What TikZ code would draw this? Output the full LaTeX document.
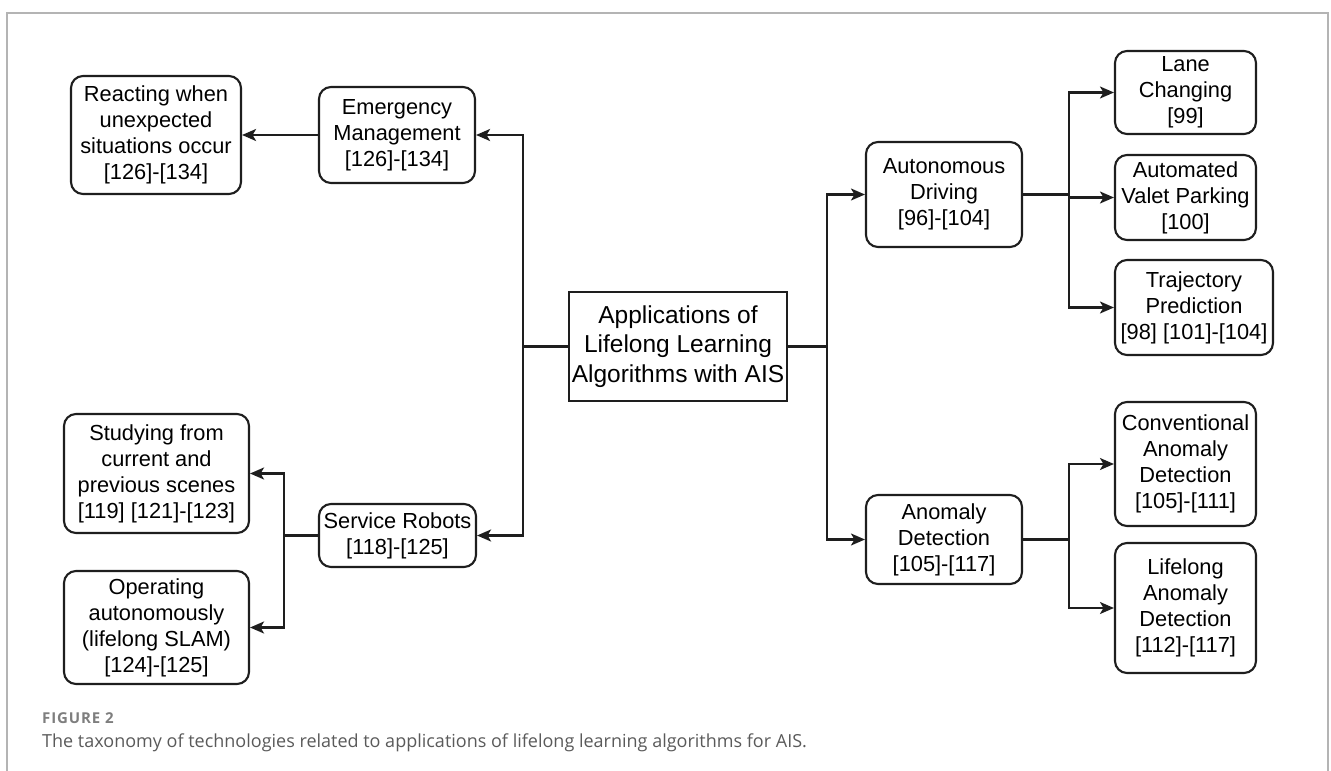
\documentclass[tikz,border=0pt]{standalone}
\usepackage{fontspec}
\setmainfont{Liberation Sans}
\newfontfamily\capfont{Open Sans}
\newfontfamily\labfont[LetterSpace=6]{Open Sans}
\usetikzlibrary{arrows.meta}
\definecolor{edgec}{HTML}{1E1E1E}
\definecolor{framec}{HTML}{B4B4B4}
\definecolor{capgray}{HTML}{7E7E7E}
\definecolor{captext}{HTML}{5A5A5A}
\tikzset{
  box/.style={draw=edgec, line width=2.1pt, rounded corners=12pt, fill=white,
    align=center, inner sep=0pt, font=\fontsize{21.8}{26}\selectfont,
    minimum width=#1},
  box/.default=156pt,
  rootbox/.style={box=218pt, rounded corners=0pt, font=\fontsize{24.5}{29.5}\selectfont},
  link/.style={draw=edgec, line width=2.1pt},
  arr/.style={link, -{Stealth[length=14pt,width=12pt,inset=3.5pt]}},
}
\begin{document}
\begin{tikzpicture}[x=1pt,y=-1pt]
\useasboundingbox (0,0) rectangle (1331,771);
% outer frame, open at the bottom
\draw[framec, line width=1.4pt] (7,771) -- (7,13) -- (1328,13) -- (1328,771);

% root
\node[rootbox, minimum height=109pt] (root) at (678,346.5)
  {Applications of\\Lifelong Learning\\Algorithms with AIS};

% left branch
\node[box, minimum height=96pt] (emerg) at (397,135)
  {Emergency\\Management\\{[126]-[134]}};
\node[box=170pt, minimum height=118pt] (react) at (156,135)
  {Reacting when\\unexpected\\situations occur\\{[126]-[134]}};
\node[box=157pt, minimum height=63pt] (serv) at (397.5,535.5)
  {Service Robots\\{[118]-[125]}};
\node[box=185pt, minimum height=119pt] (study) at (156.5,473.5)
  {Studying from\\current and\\previous scenes\\{[119] [121]-[123]}};
\node[box=185pt, minimum height=113pt] (oper) at (156.5,627.5)
  {Operating\\autonomously\\(lifelong SLAM)\\{[124]-[125]}};

% right branch
\node[box, minimum height=105pt] (auto) at (944,194.5)
  {Autonomous\\Driving\\{[96]-[104]}};
\node[box=141pt, minimum height=83pt] (lane) at (1185.5,92.5)
  {Lane\\Changing\\{[99]}};
\node[box=141pt, minimum height=85pt] (valet) at (1185.5,197.5)
  {Automated\\Valet Parking\\{[100]}};
\node[box=158pt, minimum height=95pt] (traj) at (1194,307.5)
  {Trajectory\\Prediction\\{[98] [101]-[104]}};
\node[box, minimum height=89pt] (anom) at (944,539.5)
  {Anomaly\\Detection\\{[105]-[117]}};
\node[box=141pt, minimum height=124pt] (conv) at (1185.5,464)
  {Conventional\\Anomaly\\Detection\\{[105]-[111]}};
\node[box=141pt, minimum height=130pt] (life) at (1185.5,608)
  {Lifelong\\Anomaly\\Detection\\{[112]-[117]}};

% junction points
\coordinate (jl) at (523,346.5);
\coordinate (jr) at (826.7,346.5);
\coordinate (js) at (284,535.5);
\coordinate (ja) at (1068.7,194.5);
\coordinate (jb) at (1068.7,539.5);

% connectors
\draw[link] (root.west) -- (jl);
\draw[arr] (jl) |- (emerg.east);
\draw[arr] (jl) |- (serv.east);
\draw[arr] (emerg.west) -- (react.east);
\draw[link] (serv.west) -- (js);
\draw[arr] (js) |- (study.east);
\draw[arr] (js) |- (oper.east);

\draw[link] (root.east) -- (jr);
\draw[arr] (jr) |- (auto.west);
\draw[arr] (jr) |- (anom.west);
\draw[link] (auto.east) -- (ja);
\draw[arr] (ja) |- (lane.west);
\draw[arr] (ja) |- (valet.west);
\draw[arr] (ja) |- (traj.west);
\draw[link] (anom.east) -- (jb);
\draw[arr] (jb) |- (conv.west);
\draw[arr] (jb) |- (life.west);

% caption
\node[anchor=base west, inner sep=0pt, text=capgray,
  font=\labfont\bfseries\fontsize{15}{18}\selectfont] (figlabel) at (42,723) {FIGURE 2};
\node[anchor=base west, inner sep=0pt, text=captext,
  font=\capfont\fontsize{18}{21}\selectfont] (figcap) at (42,747)
  {The taxonomy of technologies related to applications of lifelong learning algorithms for AIS.};
\end{tikzpicture}
\end{document}
